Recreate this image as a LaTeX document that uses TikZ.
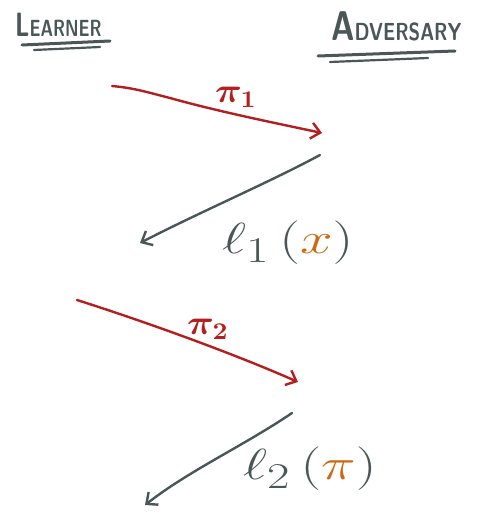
\documentclass[tikz,border=0pt]{standalone}
\usetikzlibrary{arrows.meta}
\definecolor{pen}{HTML}{4B5757}
\definecolor{redpen}{HTML}{B51E1E}
\definecolor{orpen}{HTML}{CC6A12}
\tikzset{
  msg/.style={line width=2.4pt, line cap=round, line join=round, -{Straight Barb[length=9pt,width=16pt,line width=2.4pt]}},
  redmsg/.style={msg, draw=redpen},
  graymsg/.style={msg, draw=pen},
  uline/.style={draw=pen, line width=3pt, line cap=round},
  uline2/.style={draw=pen, line width=2.2pt, line cap=round},
  party/.style={text=pen, font=\sffamily\bfseries, inner sep=0pt},
  lab/.style={text=redpen, inner sep=0pt, font=\Large\boldmath},
  loss/.style={text=pen, inner sep=0pt, font=\Huge}
}
\begin{document}
\begin{tikzpicture}[x=1pt,y=-1pt]
\useasboundingbox[fill=white] (0,0) rectangle (492,516);
% parties
\node[party, anchor=west] (learner) at (15,25) {\scalebox{0.95}[1.3]{{\fontsize{26}{26}\selectfont L}{\fontsize{18}{18}\selectfont EARNER}}};
\node[party, anchor=west] (adv) at (331,26) {\scalebox{1}[1.3]{{\fontsize{32}{32}\selectfont A}{\fontsize{19}{19}\selectfont DVERSARY}}};
% underlines
\coordinate (lu1a) at (22,45); \coordinate (lu1b) at (110,41);
\coordinate (lu2a) at (34,50); \coordinate (lu2b) at (100,47);
\draw[uline] (lu1a) -- (lu1b);
\draw[uline2] (lu2a) -- (lu2b);
\coordinate (au1a) at (318,56); \coordinate (au1b) at (455,51);
\coordinate (au2a) at (330,62); \coordinate (au2b) at (428,58);
\draw[uline] (au1a) -- (au1b);
\draw[uline2] (au2a) -- (au2b);
% round 1
\coordinate (p1s) at (112,86);
\coordinate (p1e) at (322,133);
\draw[redmsg] (p1s) .. controls (135,88) and (150,93) .. (170,98) .. controls (220,112) and (280,124) .. (p1e);
\node[lab] (pi1) at (236,97) {\scalebox{2.6}[2.4]{$\pi_1$}};
\coordinate (l1s) at (320,155);
\coordinate (l1e) at (140,243);
\draw[graymsg] (l1s) .. controls (270,182) and (200,212) .. (l1e);
\node[loss, anchor=west] (loss1) at (222,243) {\scalebox{2.35}[1.75]{$\ell_1\,(\textcolor{orpen}{x})$}};
% round 2
\coordinate (p2s) at (77,300);
\coordinate (p2e) at (298,382);
\draw[redmsg] (p2s) .. controls (140,320) and (230,352) .. (p2e);
\node[lab] (pi2) at (208,329) {\scalebox{2.6}[2.4]{$\pi_2$}};
\coordinate (l2s) at (292,413);
\coordinate (l2e) at (145,505);
\draw[graymsg] (l2s) .. controls (245,445) and (190,470) .. (l2e);
\node[loss, anchor=west] (loss2) at (243,469) {\scalebox{2.35}[1.75]{$\ell_2\,(\textcolor{orpen}{\pi})$}};
\end{tikzpicture}
\end{document}
